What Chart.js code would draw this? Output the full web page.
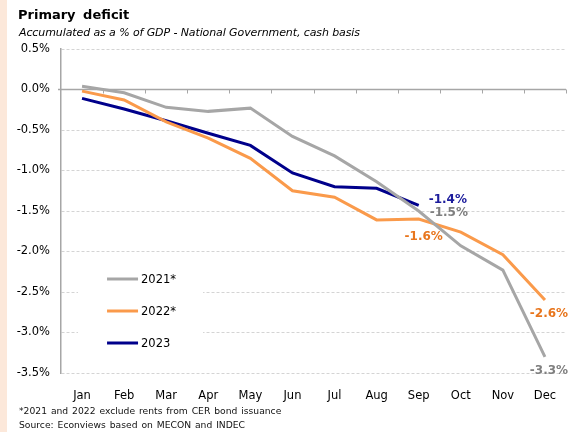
<!DOCTYPE html>
<html>
<head>
<meta charset="utf-8">
<script src="https://cdn.jsdelivr.net/npm/chart.js@4/dist/chart.umd.min.js"></script>
<style>
  html, body { margin: 0; padding: 0; background: #ffffff; }
  body { width: 569px; height: 432px; position: relative; overflow: hidden; font-family: "DejaVu Sans", sans-serif; }
  #strip { position: absolute; left: 0; top: 0; width: 7px; height: 432px; background: #fce8da; }
  #wrap { position: absolute; left: 0; top: 0; width: 569px; height: 432px; }
  .txt { position: absolute; white-space: nowrap; line-height: 1; color: #000; }
  #title { left: 18px; top: 8px; font-size: 13px; font-weight: bold; word-spacing: 3px; }
  #subtitle { left: 19px; top: 27px; font-size: 11px; font-style: italic; letter-spacing: -0.1px; }
  .note { left: 19px; font-size: 9.2px; color: #111; word-spacing: 1px; }
  #note1 { top: 406px; }
  #note2 { top: 420px; }
</style>
</head>
<body>
<div id="strip"></div>
<div id="wrap"><canvas id="chart" width="569" height="432"></canvas></div>
<div class="txt" id="title">Primary deficit</div>
<div class="txt" id="subtitle">Accumulated as a % of GDP - National Government, cash basis</div>
<div class="txt note" id="note1">*2021 and 2022 exclude rents from CER bond issuance</div>
<div class="txt note" id="note2">Source: Econviews based on MECON and INDEC</div>
<script>
// Months on the category axis
const months = ['Jan', 'Feb', 'Mar', 'Apr', 'May', 'Jun', 'Jul', 'Aug', 'Sep', 'Oct', 'Nov', 'Dec'];

// Accumulated primary balance, % of GDP
const deficit2021 = [0.04, -0.04, -0.22, -0.27, -0.23, -0.58, -0.82, -1.14, -1.5, -1.93, -2.23, -3.3];
const deficit2022 = [-0.02, -0.13, -0.40, -0.60, -0.85, -1.25, -1.33, -1.61, -1.6, -1.76, -2.04, -2.6];
const deficit2023 = [-0.11, -0.24, -0.385, -0.54, -0.69, -1.03, -1.20, -1.22, -1.43];

// Y axis range and step
const yMin = -3.5;
const yMax = 0.5;
const yStep = 0.5;

// Series names shown in the legend
const seriesNames = ['2021*', '2022*', '2023'];

// Points that carry a value label: [dataset index, month index]
const labelledPoints = [[2, 8], [0, 8], [1, 8], [1, 11], [0, 11]];

const lineColors = ['#a6a6a6', '#fa9a4b', '#00008b'];
const labelColors = ['#7f7f7f', '#e8761e', '#1c1c9c'];
// Label placement relative to its point: dx, dy, alignment
const labelPlacement = {
  '2,8': { dx: 10, dy: -5, align: 'left' },
  '0,8': { dx: 11, dy: 2, align: 'left' },
  '1,8': { dx: 5, dy: 18, align: 'center' },
  '1,11': { dx: 4, dy: 14, align: 'center' },
  '0,11': { dx: 4, dy: 14, align: 'center' }
};

Chart.defaults.font.family = '"DejaVu Sans", sans-serif';
Chart.defaults.color = '#000';

// Solid zero line with small tick marks at category boundaries
const zeroLinePlugin = {
  id: 'zeroLine',
  beforeDatasetsDraw(chart) {
    const { ctx, chartArea, scales } = chart;
    const y0 = scales.y.getPixelForValue(0);
    ctx.save();
    ctx.strokeStyle = '#a6a6a6';
    ctx.lineWidth = 1.5;
    ctx.beginPath();
    ctx.moveTo(chartArea.left - 3, y0);
    ctx.lineTo(chartArea.right, y0);
    ctx.stroke();
    ctx.lineWidth = 1;
    const n = months.length;
    for (let i = 1; i <= n; i++) {
      const x = i < n
        ? (scales.x.getPixelForValue(i - 1) + scales.x.getPixelForValue(i)) / 2
        : chartArea.right;
      const xr = Math.round(x) + 0.5;
      ctx.beginPath();
      ctx.moveTo(xr, y0);
      ctx.lineTo(xr, y0 + 4);
      ctx.stroke();
    }
    ctx.restore();
  }
};

// Legend box inside the plot area
const insideLegendPlugin = {
  id: 'insideLegend',
  afterDatasetsDraw(chart) {
    const { ctx, scales } = chart;
    const left = scales.x.getPixelForValue(0) - 4;
    const top = scales.y.getPixelForValue(-2.1);
    ctx.save();
    ctx.fillStyle = '#ffffff';
    ctx.fillRect(left, top, 125, scales.y.getPixelForValue(-3.3) - top);
    ctx.font = '11.5px "DejaVu Sans", sans-serif';
    ctx.textBaseline = 'middle';
    const rows = [279, 311, 343];
    seriesNames.forEach((name, i) => {
      const y = rows[i];
      ctx.strokeStyle = lineColors[i];
      ctx.lineWidth = 3;
      ctx.beginPath();
      ctx.moveTo(left + 29, y);
      ctx.lineTo(left + 60, y);
      ctx.stroke();
      ctx.fillStyle = '#000';
      ctx.fillText(name, left + 63, y + 1);
    });
    ctx.restore();
  }
};

// Value labels on selected points
const valueLabelPlugin = {
  id: 'valueLabels',
  afterDatasetsDraw(chart) {
    const { ctx } = chart;
    ctx.save();
    ctx.font = 'bold 12px "DejaVu Sans", sans-serif';
    ctx.textBaseline = 'middle';
    labelledPoints.forEach(([ds, idx]) => {
      const pt = chart.getDatasetMeta(ds).data[idx];
      const v = chart.data.datasets[ds].data[idx];
      const p = labelPlacement[ds + ',' + idx];
      ctx.fillStyle = labelColors[ds];
      ctx.textAlign = p.align;
      ctx.fillText(v.toFixed(1) + '%', pt.x + p.dx, pt.y + p.dy);
    });
    ctx.restore();
  }
};

new Chart(document.getElementById('chart'), {
  type: 'line',
  data: {
    labels: months,
    datasets: [
      { label: seriesNames[0], data: deficit2021, borderColor: lineColors[0] },
      { label: seriesNames[1], data: deficit2022, borderColor: lineColors[1] },
      { label: seriesNames[2], data: deficit2023, borderColor: lineColors[2] }
    ]
  },
  options: {
    responsive: false,
    animation: false,
    events: [],
    layout: { padding: { left: 0, right: 3, top: 49, bottom: 0 } },
    elements: {
      line: { borderWidth: 3, tension: 0, fill: false },
      point: { radius: 0 }
    },
    plugins: {
      legend: { display: false },
      tooltip: { enabled: false }
    },
    scales: {
      x: {
        type: 'category',
        offset: true,
        grid: { display: false },
        border: { display: false },
        ticks: { padding: 8, font: { size: 11.5 }, color: '#000', maxRotation: 0 },
        afterFit(scale) { scale.height = 59; }
      },
      y: {
        min: yMin,
        max: yMax,
        grid: {
          drawTicks: false,
          color: (c) => (c.tick && Math.abs(c.tick.value) < 1e-9 ? 'rgba(0,0,0,0)' : '#d4d4d4'),
          lineWidth: 1
        },
        border: { display: true, color: '#a6a6a6', width: 1.5, dash: [3, 2] },
        ticks: {
          stepSize: yStep,
          padding: 11,
          font: { size: 11.5 },
          color: '#000',
          callback: (v) => Number(v).toFixed(1) + '%'
        },
        afterFit(scale) { scale.width = 61; }
      }
    }
  },
  plugins: [zeroLinePlugin, insideLegendPlugin, valueLabelPlugin]
});
</script>
</body>
</html>
